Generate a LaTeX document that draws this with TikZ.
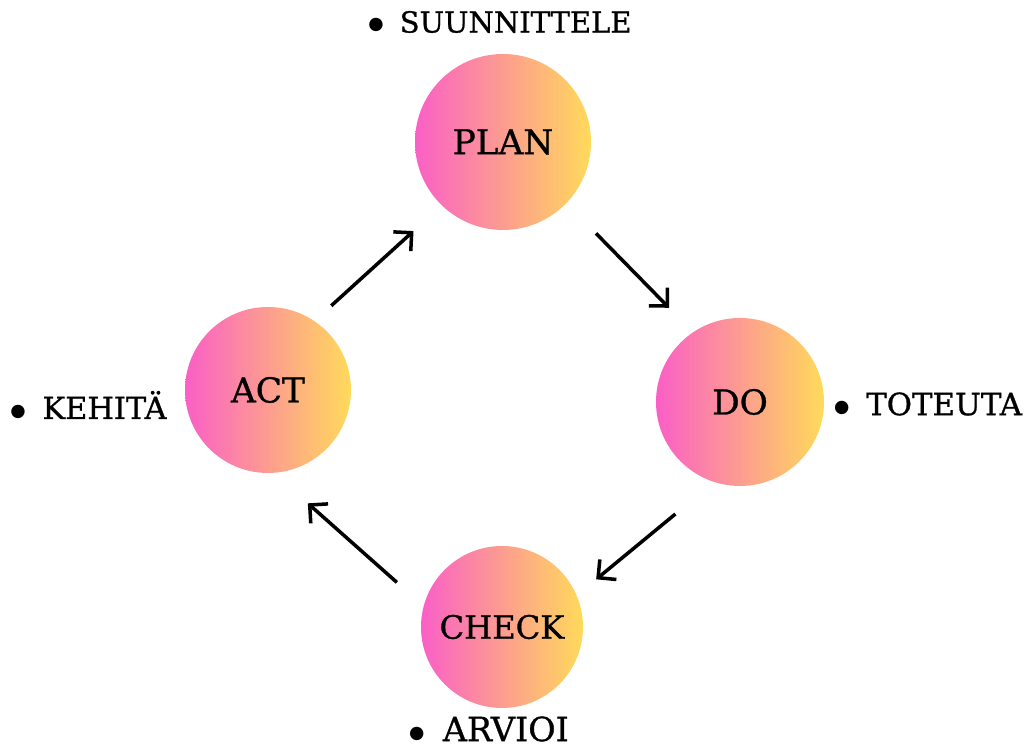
\documentclass[tikz,border=0pt]{standalone}
\usepackage{fontspec}
\setmainfont{DejaVu Serif}
\newfontfamily\cyclefont{DejaVu Serif}[FakeBold=0.9]
\newfontfamily\dotfont{DejaVu Sans}
\usetikzlibrary{arrows.meta}

\definecolor{cyclepink}{RGB}{250,95,198}
\definecolor{cycleyellow}{RGB}{255,218,90}
\newcommand{\taskdot}{{\dotfont\fontsize{10}{12}\selectfont\raisebox{1.6pt}{●}}\hspace{0.55em}}

\begin{document}
\begin{tikzpicture}[x=1cm, y=1cm,
    phase/.style={circle, minimum size=3.36cm, inner sep=0pt,
      left color=cyclepink, right color=cycleyellow, font=\cyclefont\fontsize{19.5}{23}\selectfont},
    task/.style={inner sep=1pt, font=\cyclefont\fontsize{16.5}{20}\selectfont},
    flow/.style={line width=2pt, -{Straight Barb[length=2.6mm, width=5.2mm, line width=2pt]}}]
  \useasboundingbox (0,0) rectangle (20.54,15.02);
  % the four phases
  \node[phase, minimum size=3.52cm] (plan) at (10.06,12.18) {PLAN};
  \node[phase] (do) at (14.80,6.98) {DO};
  \node[phase, minimum size=3.24cm, font=\cyclefont\fontsize{18.3}{22}\selectfont] (check) at (10.04,2.48) {CHECK};
  \node[phase, minimum size=3.32cm] (act) at (5.36,7.22) {ACT};
  % what each phase means
  \node[task] (suunnittele) at (10.00,14.58) {\taskdot SUUNNITTELE};
  \node[task, font=\cyclefont\fontsize{17.5}{21}\selectfont] (toteuta) at (18.56,6.94) {\taskdot TOTEUTA};
  \node[task, font=\cyclefont\fontsize{19}{22}\selectfont] (arvioi) at (9.78,0.44) {\taskdot ARVIOI};
  \node[task, font=\cyclefont\fontsize{17.3}{21}\selectfont] (kehita) at (1.77,6.92) {\taskdot KEHITÄ};
  % the cycle
  \draw[flow, shorten <=0.45cm, shorten >=0.76cm] (act.56) -- (plan.226);
  \draw[flow, shorten <=0.84cm, shorten >=0.68cm] (plan.316) -- (do.124);
  \draw[flow, shorten <=1.00cm, shorten >=0.50cm] (do.252) -- (check.23);
  \draw[flow, shorten <=0.71cm, shorten >=0.91cm] (check.165) -- (act.274);
\end{tikzpicture}
\end{document}
